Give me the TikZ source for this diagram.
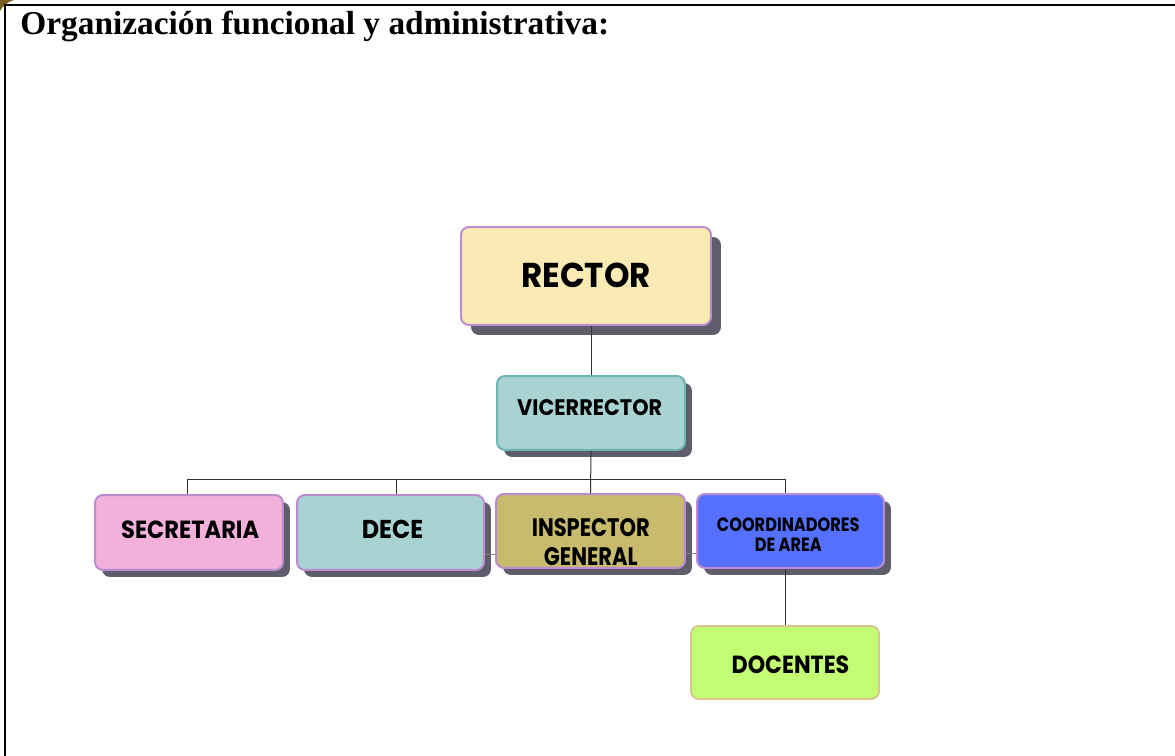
\documentclass[tikz,border=0pt]{standalone}
\usepackage{fontspec}
\usepackage{graphicx}
\setmainfont{Liberation Serif}
\newfontfamily\pop{Poppins}
\usetikzlibrary{shadows}
\definecolor{shadowc}{HTML}{5E5D6C}
\definecolor{purpb}{HTML}{BC8CD0}
\definecolor{rectorf}{HTML}{F9EBB3}
\definecolor{vicf}{HTML}{A9D3D3}
\definecolor{vicb}{HTML}{6DB4B2}
\definecolor{secf}{HTML}{F2B0DA}
\definecolor{inspf}{HTML}{C8BB6E}
\definecolor{coorf}{HTML}{5470FC}
\definecolor{docf}{HTML}{C2FD74}
\definecolor{docb}{HTML}{D6C98A}
\definecolor{linec}{HTML}{333333}
\newcommand{\sqz}[2]{\scalebox{#1}[1]{#2}}
\tikzset{
  orgbox/.style={draw=purpb, line width=0.4mm, rounded corners=1.6mm, inner sep=0pt},
  shad/.style={drop shadow={shadow xshift=#1, shadow yshift=-#1, fill=shadowc, opacity=1}},
  boxtext/.style={inner sep=0pt, align=center, text=black},
  conn/.style={draw=linec, line width=0.2mm},
  sideconn/.style={draw=gray, line width=0.2mm}
}
\begin{document}
\begin{tikzpicture}[x=0.02cm,y=-0.02cm]
\useasboundingbox (0,0) rectangle (1175,756);
% frame
\fill[color={rgb,255:red,120;green,95;blue,30}] (0,0) -- (14,0) .. controls (8,2) and (3,5) .. (0,11) -- cycle;
\draw[line width=0.45mm] (4,5) -- (1175,5);
\draw[line width=0.45mm] (5,5) -- (5,756);
\node[anchor=base west, inner sep=0pt, font=\fontsize{19}{22}\selectfont\bfseries] (title) at (20,35) {Organización funcional y administrativa:};

% boxes
\node[orgbox, shad=2mm, fill=rectorf, minimum width=50mm, minimum height=19.6mm] (rector) at (586,276) {};
\node[orgbox, shad=1.4mm, draw=vicb, fill=vicf, minimum width=37.6mm, minimum height=14.8mm] (vic) at (591,413) {};
\node[orgbox, shad=1.4mm, fill=secf, minimum width=37.6mm, minimum height=15mm] (sec) at (189,532.5) {};
\node[orgbox, shad=1.4mm, fill=vicf, minimum width=37.4mm, minimum height=15mm] (dece) at (390.5,532.5) {};
\node[orgbox, shad=1.4mm, fill=inspf, minimum width=37.8mm, minimum height=14.8mm] (insp) at (590.5,531) {};
\node[orgbox, shad=1.4mm, fill=coorf, minimum width=37.4mm, minimum height=14.8mm] (coor) at (790.5,531) {};
\node[orgbox, draw=docb, fill=docf, minimum width=37.6mm, minimum height=14.6mm] (doc) at (785,662.5) {};

% texts
\node[boxtext, font=\pop\bfseries\fontsize{19.6}{22}\selectfont] (rectort) at (586,275) {\sqz{0.944}{RECTOR}};
\node[boxtext, font=\pop\bfseries\fontsize{12.8}{15}\selectfont] (vict) at (589.7,407.9) {\sqz{0.926}{VICERRECTOR}};
\node[boxtext, font=\pop\bfseries\fontsize{14.1}{16}\selectfont] (sect) at (190.2,529.7) {\sqz{0.91}{SECRETARIA}};
\node[boxtext, font=\pop\bfseries\fontsize{14.7}{16}\selectfont] (decet) at (392.5,529) {\sqz{0.926}{DECE}};
\node[boxtext, font=\pop\bfseries\fontsize{14.4}{16.5}\selectfont] (inspt) at (590.8,541.7) {\sqz{0.83}{INSPECTOR}\\\sqz{0.83}{GENERAL}};
\node[boxtext, font=\pop\bfseries\fontsize{10.9}{11.8}\selectfont] (coort) at (788.3,534.7) {\sqz{0.845}{COORDINADORES}\\\sqz{0.845}{DE AREA}};
\node[boxtext, font=\pop\bfseries\fontsize{14.1}{16}\selectfont] (doct) at (790.5,664.7) {\sqz{0.894}{DOCENTES}};

% connectors
\coordinate (barl) at (187,479);
\coordinate (barr) at (785,479);
\coordinate (barm) at (396,479);
\draw[conn] (vic.north) -- (vic.north |- rector.south);
\draw[conn] (barl) -- (barr);
\draw[conn] (vic.south) -- (insp.north);
\draw[conn] (barl) -- (barl |- sec.north);
\draw[conn] (barm) -- (barm |- dece.north);
\draw[conn] (barr) -- (barr |- coor.north);
\draw[conn] (coor.south -| doc.north) -- (doc.north);
\draw[sideconn] ([yshift=-4.5mm]dece.east) -- ([yshift=-4.5mm]dece.east -| insp.west);
\draw[sideconn] ([yshift=-4.5mm]insp.east) -- ([yshift=-4.5mm]insp.east -| coor.west);
\end{tikzpicture}
\end{document}
